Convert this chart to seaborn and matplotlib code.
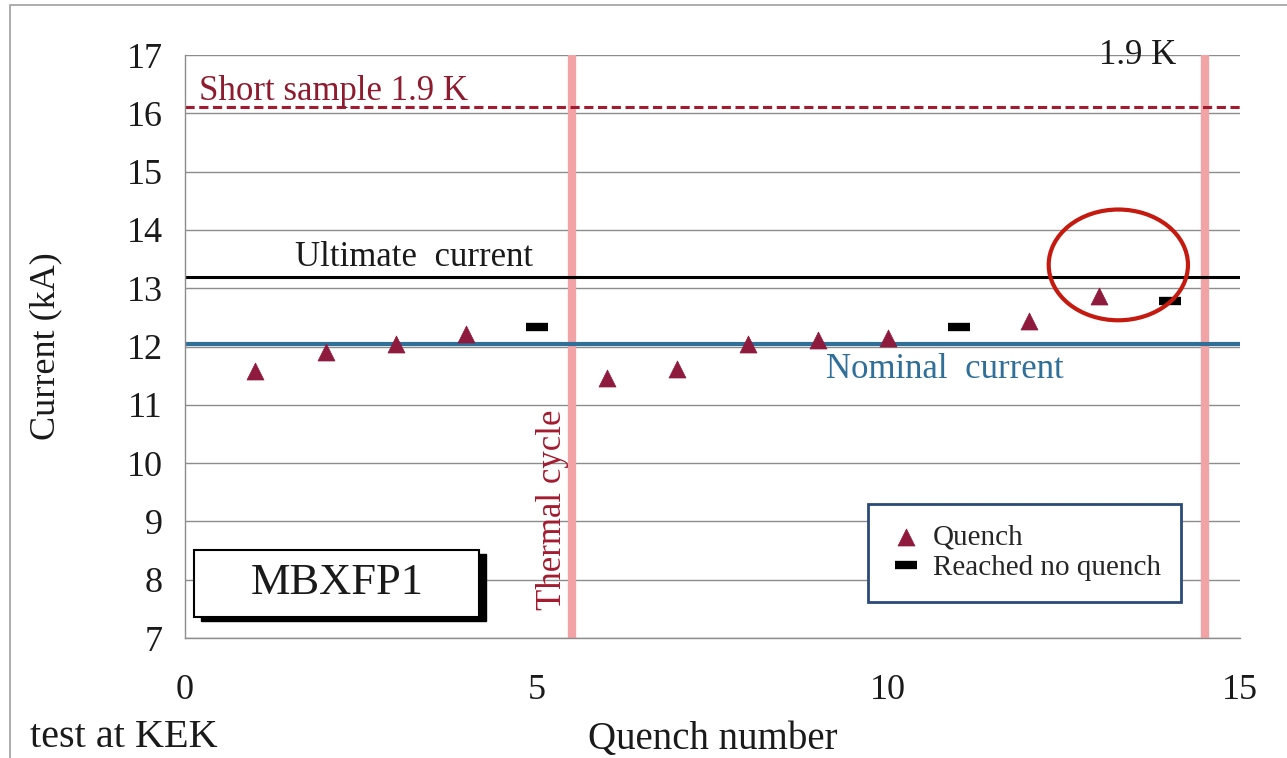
import matplotlib
matplotlib.use('Agg')
import matplotlib.pyplot as plt
import matplotlib.patches as mpatches
import pandas as pd
import seaborn as sns

# Quench data
quench_no = [1, 2, 3, 4, 6, 7, 8, 9, 10, 12, 13]
quench_ka = [11.58, 11.9, 12.04, 12.21, 11.46, 11.61, 12.04, 12.11, 12.15, 12.44, 12.87]
noq_no = [5, 11, 14]
noq_ka = [12.33, 12.33, 12.78]

short_sample = 16.1
ultimate = 13.2
nominal = 12.05
thermal_cycles = [5.5, 14.5]

sns.set_theme(style='white')
plt.rcParams['font.family'] = ['Liberation Serif', 'DejaVu Serif']

quench = pd.DataFrame({'n': quench_no, 'I': quench_ka})
noq = pd.DataFrame({'n': noq_no, 'I': noq_ka})

fig = plt.figure(figsize=(12.87, 7.58), dpi=100)
ax = fig.add_axes([0.1437, 0.1583, 0.8198, 0.7691])

# reference lines
for xv in thermal_cycles:
    ax.axvline(xv, color='#f2a3a6', lw=6, zorder=1)
ax.axhline(short_sample, color='#a31b2e', lw=2.2, ls=(0, (3, 1.5)), zorder=2)
ax.axhline(ultimate, color='black', lw=2.2, zorder=2)
ax.axhline(nominal, color='#2f6f98', lw=3, zorder=2)

sns.scatterplot(data=quench, x='n', y='I', marker='^', s=150, color='#8e1b3d',
                edgecolor='#8e1b3d', linewidth=0.5, ax=ax, label='Quench', zorder=4)
ax.plot(noq['n'], noq['I'], ls='none', marker='_', ms=16, mew=6, color='black',
        label='Reached no quench', zorder=4)

ax.set_xlim(0, 15)
ax.set_ylim(7, 17)
ax.set_xticks([0, 5, 10, 15])
ax.set_yticks(range(7, 18))
ax.yaxis.grid(True, color='#8c8c8c', lw=1)
ax.xaxis.grid(False)
for s in ['top', 'right']:
    ax.spines[s].set_visible(False)
for s in ['left', 'bottom']:
    ax.spines[s].set_color('#8c8c8c')
    ax.spines[s].set_linewidth(1)
ax.tick_params(axis='both', labelsize=26, colors='#8c8c8c', labelcolor='#1a1a1a',
               length=8, direction='inout')
ax.tick_params(axis='x', pad=22)
ax.tick_params(axis='y', pad=12)
ax.set_xlabel('Quench number', fontsize=28, color='#1a1a1a', labelpad=10)
ax.set_ylabel('Current (kA)', fontsize=26, color='#1a1a1a', labelpad=46)

# annotations
ann = 25
ax.text(0.2, 16.37, 'Short sample 1.9 K', fontsize=ann, color='#8e1b2e', va='center')
ax.text(13.55, 17.0, '1.9 K', fontsize=ann, color='#1a1a1a', ha='center', va='center')
ax.text(3.26, 13.52, 'Ultimate  current', fontsize=ann, color='#1a1a1a', ha='center', va='center')
ax.text(10.8, 11.6, 'Nominal  current', fontsize=ann, color='#2f6f98', ha='center', va='center')
ax.text(5.22, 9.2, 'Thermal cycle', fontsize=ann, color='#a31b2e', rotation=90,
        ha='center', va='center')

ax.add_patch(mpatches.Ellipse((13.27, 13.4), 1.98, 1.9, fill=False,
                              edgecolor='#c41a10', lw=3, zorder=5))

# MBXFP1 box with shadow
ax.add_patch(mpatches.Rectangle((0.015, 0.029), 0.27, 0.115, transform=ax.transAxes,
                                facecolor='black', edgecolor='black', zorder=5))
ax.add_patch(mpatches.Rectangle((0.009, 0.036), 0.27, 0.115, transform=ax.transAxes,
                                facecolor='white', edgecolor='black', lw=1.5, zorder=6))
ax.text(0.144, 0.094, 'MBXFP1', transform=ax.transAxes, fontsize=32, ha='center',
        va='center', zorder=7, color='#1a1a1a')

leg = ax.legend(loc='lower right', bbox_to_anchor=(0.944, 0.062), fontsize=21,
                frameon=True, fancybox=False, handletextpad=0.3, handlelength=1.2,
                borderpad=0.7, labelspacing=0.15, borderaxespad=0)
leg.get_frame().set_edgecolor('#2a4a78')
leg.get_frame().set_linewidth(2)
leg.get_frame().set_alpha(1)
leg.set_zorder(6)

fig.text(0.023, 0.027, 'test at KEK', fontsize=29, color='#1a1a1a', va='center')
fig.add_artist(mpatches.Rectangle((0.008, -0.01), 1.1, 1.003, transform=fig.transFigure,
                                  fill=False, edgecolor='#a0a0a0', lw=1.2))

fig.savefig('out.png', dpi=100)
